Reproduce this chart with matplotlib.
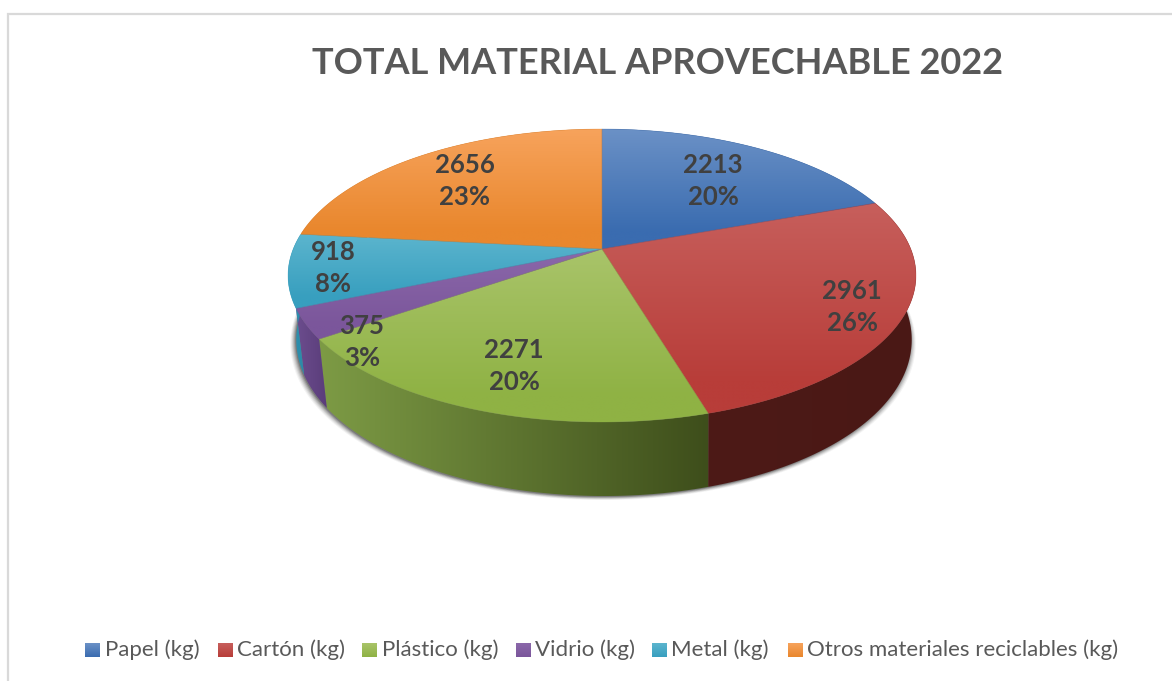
import numpy as np
import matplotlib
matplotlib.use("Agg")
import matplotlib.pyplot as plt
from matplotlib.patches import Polygon
from matplotlib.colors import LinearSegmentedColormap

# ---- data ----
title = "TOTAL MATERIAL APROVECHABLE 2022"
categories = ["Papel (kg)", "Cartón (kg)", "Plástico (kg)", "Vidrio (kg)", "Metal (kg)",
              "Otros materiales reciclables (kg)"]
values = [2213, 2961, 2271, 375, 918, 2656]
percents = ["20%", "26%", "20%", "3%", "8%", "23%"]

# ---- styles / layout ----
top_light = ["#6b91c6", "#c75f5c", "#a9c46a", "#8b68aa", "#5cb5ce", "#f7a35c"]
top_dark = ["#3a6cb0", "#b83d39", "#8fb244", "#7b569b", "#389fbf", "#e9872d"]
wall_left = ["#2f5488", "#4d1a17", "#7d9b45", "#6c4d8e", "#3096b5", "#b86a20"]
wall_right = ["#2f5488", "#4a1815", "#3e4e1b", "#5a3d7a", "#2a86a3", "#b86a20"]
label_pos = [(713, 181), (852, 307), (514, 366), (362, 342), (333, 268), (465, 181)]
legend_sq = [85, 218, 362, 516, 652, 788]
legend_tx = [105, 237, 382, 535, 671, 807]
FONT = "Lato"
CX, CY, A, B, K = 602, 249, 308.8, 141.7, 0.181

fig = plt.figure(figsize=(11.72, 6.81), dpi=100, facecolor="white")
ax = fig.add_axes([0, 0, 1, 1])
ax.set_axis_off()


def project(theta):
    u, v = np.sin(theta), np.cos(theta)
    d = 1 + K * v
    return CX + A * u / d, CY - B * v / d, v


def project_base(theta):
    x, y, v = project(theta)
    return CX + 2 + (x - CX) * 0.98, y + 62 - 12 * v


def grad_fill(pts, stops, horizontal, zorder):
    pts = np.asarray(pts)
    x0, y0 = pts.min(axis=0)
    x1, y1 = pts.max(axis=0)
    cmap = LinearSegmentedColormap.from_list("g", stops)
    g = np.linspace(0, 1, 256)
    g = g[None, :] if horizontal else g[:, None]
    im = ax.imshow(g, cmap=cmap, extent=(x0, x1, y1, y0), aspect="auto",
                   zorder=zorder, interpolation="bilinear", vmin=0, vmax=1)
    poly = Polygon(pts, closed=True, transform=ax.transData, fc="none", ec="none")
    ax.add_patch(poly)
    im.set_clip_path(poly)
    return im


fractions = np.array(values, dtype=float) / np.sum(values)
edges = np.concatenate([[0], np.cumsum(fractions)]) * 2 * np.pi

# shadow under the pie
th = np.linspace(0, 2 * np.pi, 400)
bx, by = project_base(th)
for grow, alpha in zip([5, 4, 3, 2, 1, 0], [0.05, 0.08, 0.10, 0.14, 0.18, 0.25]):
    sx = CX + (bx - CX) * (1 + grow / 310) - 1
    sy = by + 1 + grow * 0.6
    ax.add_patch(Polygon(np.c_[sx, sy], closed=True, fc="#202020", ec="none", alpha=alpha, zorder=1))

# outer walls
for i in range(len(values)):
    t = np.linspace(edges[i], edges[i + 1], 120)
    x, y, _ = project(t)
    xb, yb = project_base(t)
    pts = np.r_[np.c_[x, y], np.c_[xb, yb][::-1]]
    grad_fill(pts, [wall_left[i], wall_right[i]], True, 2)

# top face
for i in range(len(values)):
    t = np.linspace(edges[i], edges[i + 1], 120)
    x, y, _ = project(t)
    pts = np.r_[[[CX, CY]], np.c_[x, y]]
    grad_fill(pts, [(0, top_light[i]), (0.85, top_dark[i]), (1, top_dark[i])], False, 3)
    ax.add_patch(Polygon(pts, closed=True, fc="none", ec=top_dark[i], lw=0.4, alpha=0.5, zorder=3.5))

# labels
for (lx, ly), val, pct in zip(label_pos, values, percents):
    ax.text(lx, ly - 16, str(val), ha="center", va="center", fontsize=18.5, fontweight="bold",
            color="#404040", family=FONT, zorder=5)
    ax.text(lx, ly + 16, pct, ha="center", va="center", fontsize=18.5, fontweight="bold",
            color="#404040", family=FONT, zorder=5)

# title
ax.text(657, 64, title, ha="center", va="center", fontsize=26, fontweight="bold",
        color="#595959", family=FONT, zorder=5)

# legend
for i, cat in enumerate(categories):
    x0 = legend_sq[i]
    sq = [(x0, 643), (x0 + 15, 643), (x0 + 15, 657), (x0, 657)]
    grad_fill(sq, [top_light[i], top_dark[i]], False, 5)
    ax.text(legend_tx[i], 650, cat, ha="left", va="center", fontsize=16,
            color="#595959", family=FONT, zorder=5)

# chart frame
ax.plot([8, 8, 1172], [681, 14, 14], color="#d9d9d9", lw=1.6, zorder=0, solid_joinstyle="miter")

ax.set_xlim(0, 1172)
ax.set_ylim(681, 0)
fig.savefig("out.png", dpi=100, facecolor="white")
